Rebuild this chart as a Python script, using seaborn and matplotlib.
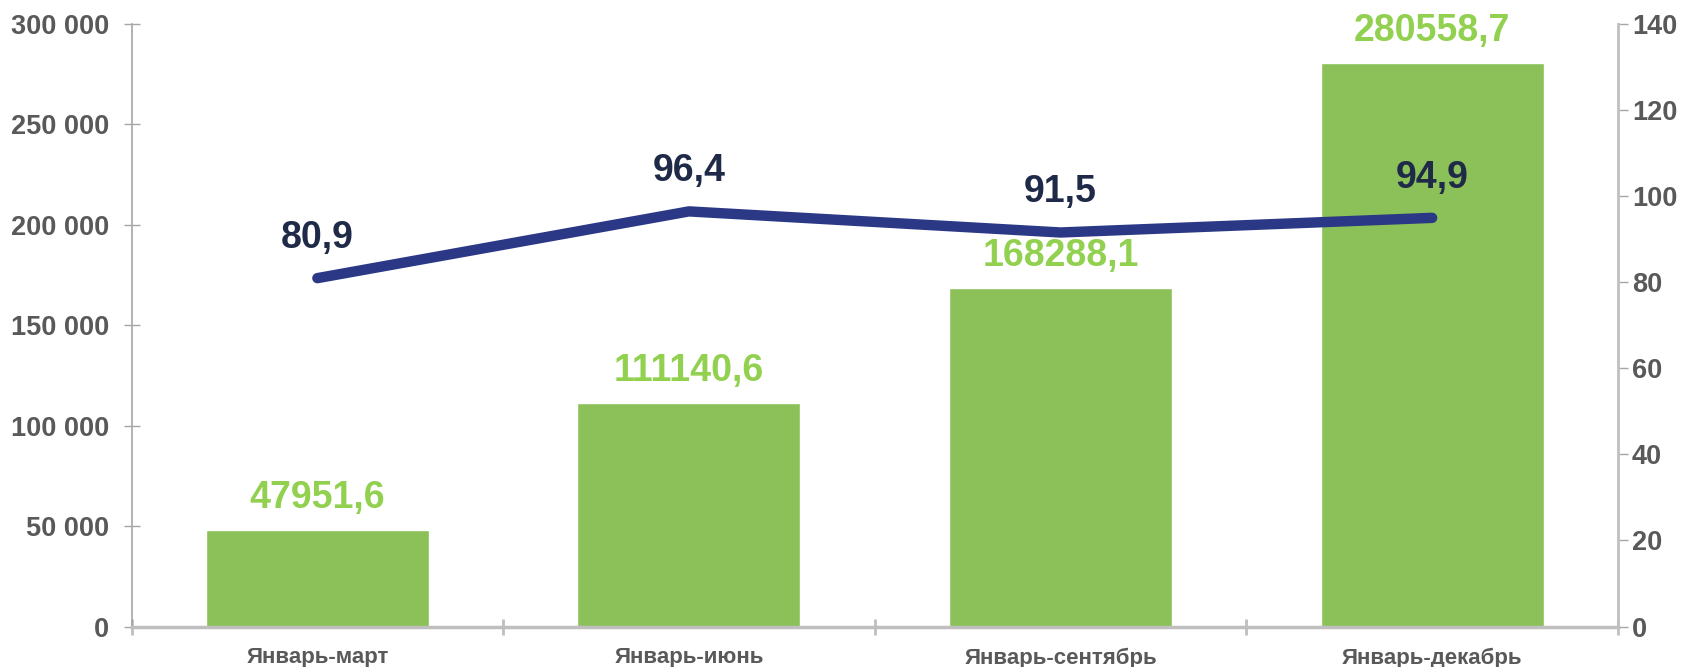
import numpy as np
import pandas as pd
import matplotlib
matplotlib.use("Agg")
import matplotlib.pyplot as plt
from matplotlib.ticker import FuncFormatter, FixedLocator
import seaborn as sns

# data
periods = ["Январь-март", "Январь-июнь", "Январь-сентябрь", "Январь-декабрь"]
volume = [47951.6, 111140.6, 168288.1, 280558.7]
index_pct = [80.9, 96.4, 91.5, 94.9]

sns.set_style("white")
plt.rcParams["font.family"] = ["Liberation Sans", "DejaVu Sans"]
plt.rcParams["font.weight"] = "bold"

df = pd.DataFrame({"period": periods, "volume": volume, "index": index_pct})

fig = plt.figure(figsize=(16.91, 6.67), dpi=100)
ax = fig.add_axes([0.0778, 0.0606, 0.879, 0.904])

sns.barplot(data=df, x="period", y="volume", color="#8BC158", saturation=1,
            width=0.6, ax=ax)
ax.set_ylim(0, 300000)
ax.set_xlim(-0.5, len(periods) - 0.5)
ax.set_yticks(np.arange(0, 300001, 50000))
ax.yaxis.set_major_formatter(FuncFormatter(lambda v, p: f"{int(v):,}".replace(",", " ")))
ax.set_xlabel("")
ax.set_ylabel("")

for i, v in enumerate(volume):
    ax.annotate(f"{v:.1f}".replace(".", ","), (i, v), xytext=(0, 10),
                textcoords="offset points", ha="center", va="bottom",
                fontsize=27, fontweight="bold", color="#92D050")

ax2 = ax.twinx()
sns.lineplot(x=np.arange(len(periods)), y=index_pct, color="#2B3886",
             linewidth=7.5, ax=ax2, solid_capstyle="round", solid_joinstyle="round")
ax2.set_ylim(0, 140)
ax2.set_yticks(np.arange(0, 141, 20))
for i, v in enumerate(index_pct):
    ax2.annotate(f"{v:.1f}".replace(".", ","), (i, v), xytext=(0, 16),
                 textcoords="offset points", ha="center", va="bottom",
                 fontsize=27, fontweight="bold", color="#1F2A48")

# spines & ticks
for s in ["top"]:
    ax.spines[s].set_visible(False)
    ax2.spines[s].set_visible(False)
ax.spines["right"].set_visible(False)
ax2.spines["left"].set_visible(False)
ax2.spines["bottom"].set_visible(False)
ax.spines["left"].set_color("#A6A6A6")
ax.spines["left"].set_linewidth(1.2)
ax.spines["bottom"].set_color("#BFBFBF")
ax.spines["bottom"].set_linewidth(2.5)
ax2.spines["right"].set_color("#BFBFBF")
ax2.spines["right"].set_linewidth(2)

ax.tick_params(axis="y", left=True, direction="inout", length=12, width=1,
               color="#A6A6A6", labelsize=19.5, labelcolor="#595959", pad=10)
ax2.tick_params(axis="y", right=True, direction="out", length=7, width=1,
                color="#A6A6A6", labelsize=19.5, labelcolor="#595959", pad=3)
ax.tick_params(axis="x", which="major", length=0, labelsize=16,
               labelcolor="#595959", pad=15)
ax.xaxis.set_minor_locator(FixedLocator(np.arange(-0.5, len(periods), 1.0)))
ax.tick_params(axis="x", which="minor", bottom=True, direction="inout",
               length=12, width=2, color="#BFBFBF")
for lbl in ax.get_xticklabels() + ax.get_yticklabels() + ax2.get_yticklabels():
    lbl.set_fontweight("bold")

fig.savefig("out.png", dpi=100)
